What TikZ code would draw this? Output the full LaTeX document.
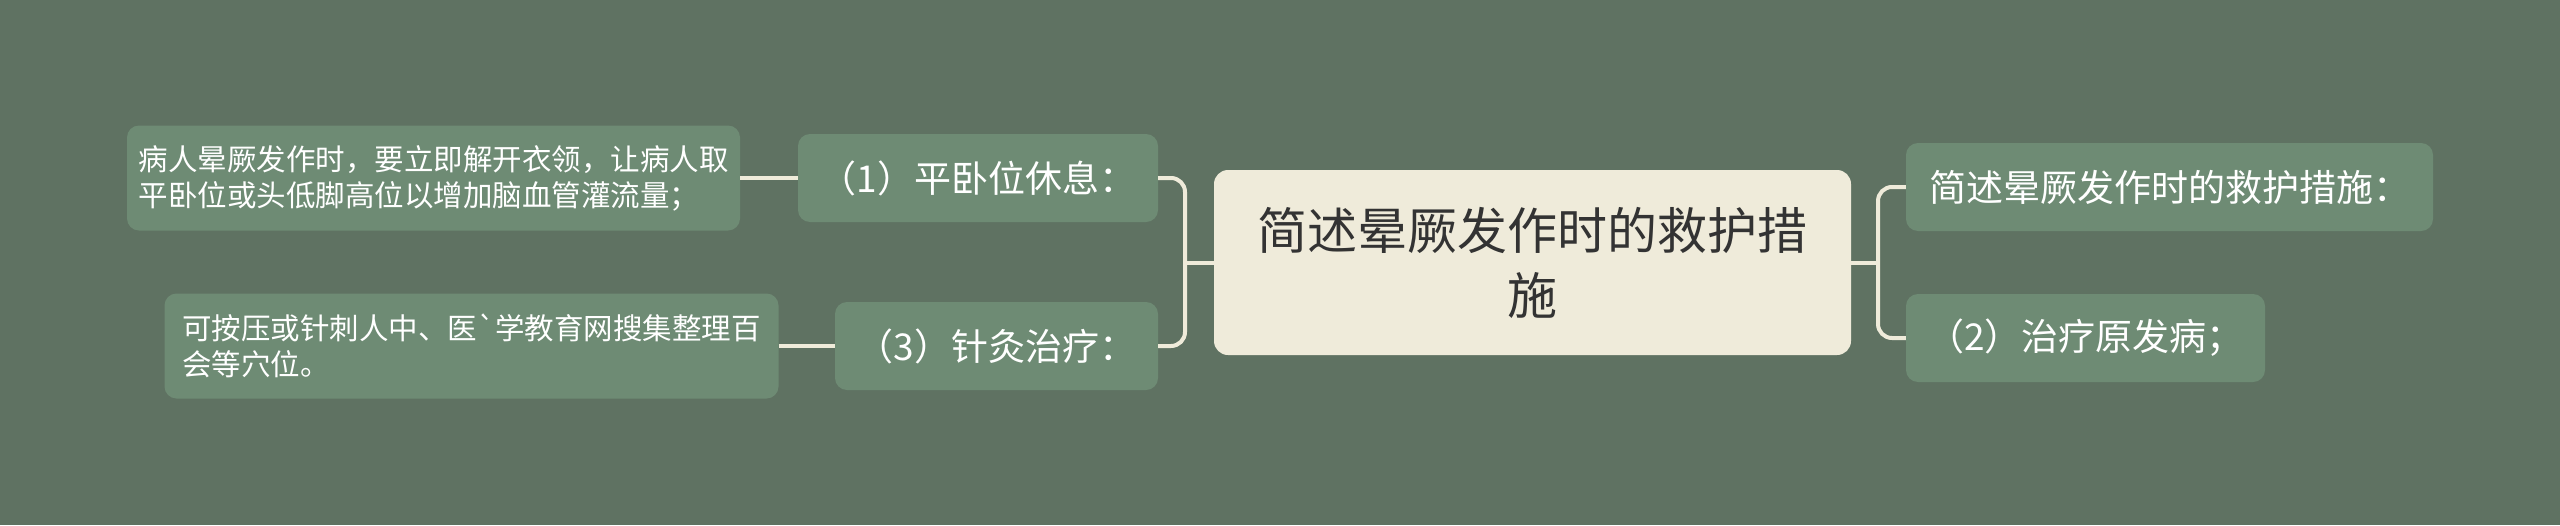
\documentclass[tikz,border=0pt]{standalone}
\usepackage{fontspec}
\newfontfamily\cjk{Noto Sans CJK SC}
\usetikzlibrary{shapes}
\definecolor{bgGreen}{HTML}{5F7262}
\definecolor{boxGreen}{HTML}{6E8B74}
\definecolor{rootFill}{HTML}{EFEBDA}
\definecolor{lineCream}{HTML}{EFEBDA}
\newcommand{\rootNode}{\node[rectangle,rounded corners=14pt,fill=rootFill,text=black!80,align=center,font=\cjk\fontsize{50pt}{65pt}\selectfont,minimum width=637pt,minimum height=185pt]}
\newcommand{\subNode}{\node[rectangle,rounded corners=12pt,fill=boxGreen,text=white,font=\cjk\fontsize{37pt}{44pt}\selectfont,minimum height=88pt]}
\newcommand{\tipNode}{\node[rectangle,rounded corners=12pt,fill=boxGreen,text=white,align=left,font=\cjk\fontsize{29.5pt}{36pt}\selectfont,minimum height=105pt]}

\begin{document}
\begin{tikzpicture}[x=1pt,y=-1pt,link/.style={draw=lineCream,line width=4pt,rounded corners=14pt}]

    \fill[bgGreen] (0,0) rectangle (2560,525); % page
    \useasboundingbox (0,0) rectangle (2560,525);

    \rootNode (root) at (1532.5,262.5) {简述晕厥发作时的救护措\\施};

    \subNode[minimum width=527pt] (aim) at (2169.5,187) {简述晕厥发作时的救护措施：};
    \subNode[minimum width=359pt] (cure) at (2085.5,338) {（2）治疗原发病；};
    \subNode[minimum width=360pt] (rest) at (978,178) {（1）平卧位休息：};
    \subNode[minimum width=323pt] (needle) at (996.5,346) {（3）针灸治疗：};

    \tipNode[minimum width=613pt] (restTip) at (433.5,178) {病人晕厥发作时，要立即解开衣领，让病人取\\平卧位或头低脚高位以增加脑血管灌流量；};
    \tipNode[minimum width=614pt] (needleTip) at (471.5,346) {可按压或针刺人中、医`学教育网搜集整理百\\会等穴位。};

    \coordinate (leftJoin) at (1185,262.5);
    \coordinate (rightJoin) at (1878,262.5);

    \draw[link] (root.west) -- (leftJoin);
    \draw[link] (rest.east) -| (leftJoin) |- (needle.east);
    \draw[link] (root.east) -- (rightJoin);
    \draw[link] (aim.west) -| (rightJoin) |- (cure.west);
    \draw[link] (restTip.east) -- (rest.west);
    \draw[link] (needleTip.east) -- (needle.west);

\end{tikzpicture}
\end{document}
